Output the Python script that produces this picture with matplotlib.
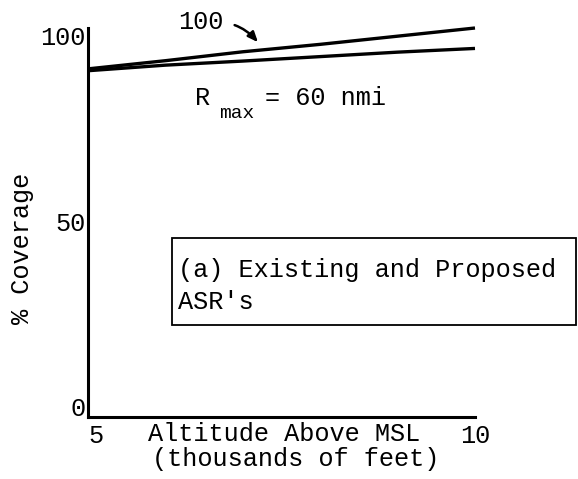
import matplotlib
matplotlib.use("Agg")
import matplotlib.pyplot as plt
from matplotlib.patches import Rectangle

plt.rcParams["font.family"] = ["Liberation Mono", "DejaVu Sans Mono"]

# altitude in thousands of feet, coverage in percent
altitude = [5, 6, 7, 8, 9, 10]
cov_100 = [91.0, 93.2, 95.6, 97.6, 99.8, 102.0]
cov_60 = [90.5, 92.0, 93.1, 94.3, 95.5, 96.5]
xticks = [5, 10]
yticks = [0, 50, 100]

W, H = 578, 479
FS = 18.2
fig = plt.figure(figsize=(W / 100, H / 100), dpi=100)


def fx(px):
    return px / W


def fy(py):
    return 1 - py / H


ax = fig.add_axes([fx(88), fy(417), fx(475) - fx(88), fy(28) - fy(417)])
ax.plot(altitude, cov_100, color="black", lw=2.4, clip_on=False, solid_capstyle="butt")
ax.plot(altitude, cov_60, color="black", lw=2.4, clip_on=False, solid_capstyle="butt")

ax.set_xlim(5, 10)
ax.set_ylim(-2.7, 102.0)
ax.set_xticks(xticks)
ax.set_xticklabels([str(t) for t in xticks], fontsize=FS)
ax.get_xticklabels()[0].set_ha("left")
ax.set_yticks(yticks)
ax.set_yticklabels([str(t) for t in yticks], fontsize=FS)
ax.tick_params(length=0, pad=2)
ax.tick_params(axis="x", pad=5)
for s in ["top", "right"]:
    ax.spines[s].set_visible(False)
for s in ["left", "bottom"]:
    ax.spines[s].set_linewidth(2.2)

# curve label with arrow
ax.text(6.46, 103.5, "100", fontsize=FS, ha="center", va="center", clip_on=False)
ax.annotate("", xy=(7.22, 97.6), xytext=(6.86, 103.0),
            arrowprops=dict(arrowstyle="-|>,head_length=0.6,head_width=0.25",
                            color="black", lw=1.8,
                            connectionstyle="angle3,angleA=-15,angleB=-50"),
            annotation_clip=False)

# R_max label
fig.text(fx(195), fy(98), "R", fontsize=FS, ha="left", va="center")
fig.text(fx(219), fy(113), "max", fontsize=14, ha="left", va="center")
fig.text(fx(265), fy(98), "= 60 nmi", fontsize=FS, ha="left", va="center")

# axis labels
fig.text(fx(148), fy(434), "Altitude Above MSL", fontsize=FS, ha="left", va="center")
fig.text(fx(152), fy(459), "(thousands of feet)", fontsize=FS, ha="left", va="center")
fig.text(fx(22), fy(248), "% Coverage", fontsize=FS, ha="center", va="center",
         rotation=90)

# boxed caption
fig.patches.append(Rectangle((fx(172), fy(325)), fx(576) - fx(172), fy(238) - fy(325),
                             transform=fig.transFigure, fill=False,
                             edgecolor="black", lw=1.3))
fig.text(fx(178), fy(270), "(a) Existing and Proposed", fontsize=FS,
         ha="left", va="center")
fig.text(fx(178), fy(302), "ASR's", fontsize=FS, ha="left", va="center")

fig.savefig("out.png", dpi=100, facecolor="white")
